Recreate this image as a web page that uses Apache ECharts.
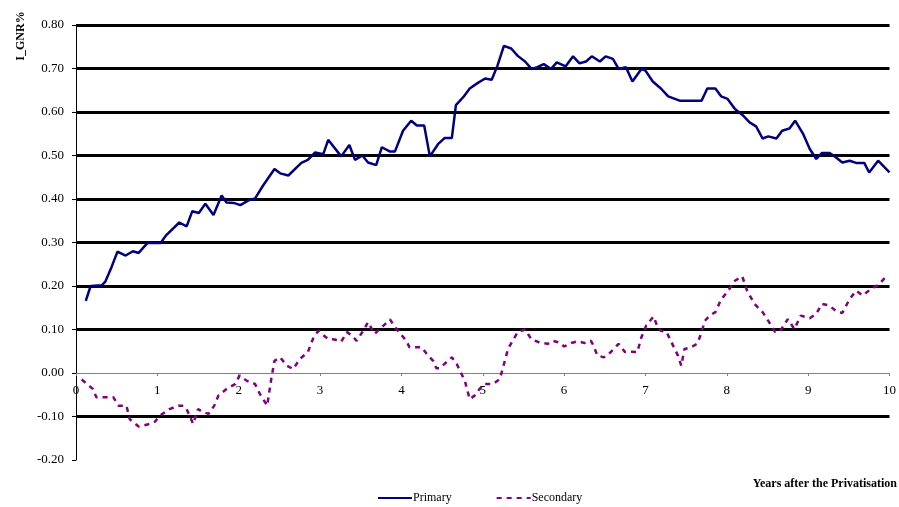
<!DOCTYPE html>
<html>
<head>
<meta charset="utf-8">
<script src="https://cdn.jsdelivr.net/npm/echarts@6/dist/echarts.min.js"></script>
<style>
html,body{margin:0;padding:0;background:#fff;}
#chart{width:899px;height:507px;}
</style>
</head>
<body>
<div id="chart"></div>
<script>
const seriesNames = ['Primary', 'Secondary'];
const yTickLabels = ['-0.20','-0.10','0.00','0.10','0.20','0.30','0.40','0.50','0.60','0.70','0.80'];
const xTickLabels = ['0','1','2','3','4','5','6','7','8','9','10'];

const primaryYears = [0.12,0.18,0.32,0.36,0.44,0.51,0.61,0.70,0.77,0.88,1.04,1.11,1.27,1.36,1.43,1.51,1.59,1.69,1.79,1.85,1.94,2.02,2.12,2.20,2.30,2.44,2.51,2.61,2.77,2.85,2.94,3.04,3.10,3.26,3.36,3.43,3.52,3.59,3.69,3.76,3.86,3.92,4.02,4.12,4.19,4.28,4.35,4.45,4.53,4.62,4.67,4.76,4.84,4.94,5.03,5.11,5.18,5.26,5.35,5.43,5.52,5.60,5.67,5.75,5.84,5.91,6.02,6.11,6.19,6.27,6.34,6.44,6.51,6.60,6.67,6.76,6.84,6.95,7.00,7.09,7.19,7.28,7.42,7.69,7.76,7.86,7.93,8.01,8.10,8.20,8.28,8.36,8.44,8.51,8.61,8.68,8.77,8.84,8.94,9.02,9.10,9.17,9.26,9.34,9.42,9.51,9.59,9.69,9.75,9.86,10.00];
const primaryValues = [0.166,0.200,0.202,0.210,0.245,0.279,0.270,0.280,0.276,0.299,0.299,0.317,0.346,0.337,0.372,0.368,0.389,0.363,0.408,0.392,0.391,0.386,0.397,0.401,0.431,0.469,0.459,0.454,0.483,0.490,0.507,0.503,0.536,0.498,0.524,0.490,0.500,0.484,0.478,0.519,0.509,0.509,0.557,0.580,0.569,0.569,0.498,0.526,0.540,0.540,0.616,0.634,0.654,0.667,0.677,0.674,0.706,0.752,0.746,0.729,0.716,0.699,0.703,0.710,0.699,0.714,0.705,0.728,0.712,0.716,0.728,0.716,0.728,0.722,0.699,0.703,0.670,0.699,0.695,0.670,0.654,0.636,0.626,0.626,0.654,0.654,0.636,0.630,0.607,0.592,0.576,0.567,0.539,0.544,0.539,0.557,0.562,0.580,0.549,0.515,0.492,0.506,0.506,0.496,0.484,0.488,0.483,0.483,0.461,0.488,0.461];

const secondaryYears = [0.07,0.21,0.25,0.46,0.52,0.62,0.66,0.77,0.91,0.97,1.03,1.15,1.26,1.32,1.36,1.44,1.50,1.56,1.63,1.70,1.75,1.85,1.96,2.01,2.10,2.20,2.26,2.35,2.40,2.44,2.51,2.59,2.67,2.75,2.85,2.92,2.98,3.02,3.10,3.18,3.26,3.33,3.39,3.45,3.53,3.59,3.67,3.78,3.86,3.94,4.06,4.10,4.25,4.31,4.39,4.43,4.47,4.53,4.62,4.68,4.72,4.78,4.84,4.90,4.96,5.02,5.13,5.21,5.25,5.31,5.37,5.43,5.52,5.60,5.70,5.80,5.86,5.94,6.00,6.09,6.17,6.25,6.33,6.35,6.41,6.49,6.55,6.61,6.67,6.75,6.83,6.90,6.95,7.01,7.10,7.15,7.19,7.26,7.34,7.40,7.44,7.48,7.56,7.64,7.69,7.73,7.79,7.86,7.93,8.01,8.10,8.19,8.25,8.34,8.44,8.52,8.59,8.65,8.75,8.83,8.91,9.02,9.10,9.17,9.26,9.34,9.42,9.51,9.59,9.67,9.77,9.86,9.96];
const secondaryValues = [-0.015,-0.037,-0.056,-0.056,-0.075,-0.075,-0.106,-0.123,-0.117,-0.112,-0.098,-0.083,-0.075,-0.075,-0.083,-0.117,-0.083,-0.090,-0.094,-0.075,-0.052,-0.037,-0.025,-0.006,-0.018,-0.025,-0.048,-0.075,-0.014,0.028,0.036,0.017,0.009,0.032,0.048,0.082,0.097,0.090,0.078,0.077,0.072,0.094,0.086,0.074,0.097,0.117,0.090,0.109,0.123,0.101,0.074,0.059,0.059,0.044,0.028,0.011,0.011,0.021,0.036,0.021,0.005,-0.018,-0.060,-0.052,-0.037,-0.025,-0.025,-0.014,0.013,0.055,0.075,0.094,0.100,0.077,0.070,0.067,0.074,0.070,0.061,0.069,0.073,0.069,0.074,0.067,0.040,0.036,0.044,0.055,0.067,0.048,0.049,0.048,0.082,0.109,0.130,0.105,0.097,0.094,0.063,0.040,0.017,0.055,0.059,0.068,0.094,0.120,0.132,0.140,0.169,0.187,0.212,0.222,0.189,0.159,0.140,0.117,0.095,0.095,0.124,0.101,0.132,0.126,0.136,0.159,0.155,0.143,0.138,0.170,0.189,0.178,0.193,0.202,0.222];

const yAxisTitle = 'I_GNR%';
const xAxisTitle = 'Years after the Privatisation';

const serif = '"Liberation Serif", "Times New Roman", serif';
const pair = (xs, ys) => xs.map((x, i) => [x, ys[i]]);

const chart = echarts.init(document.getElementById('chart'), null, {renderer: 'canvas'});
chart.setOption({
  animation: false,
  backgroundColor: '#fff',
  grid: {left: 76, right: 9, top: 25, bottom: 47, containLabel: false},
  legend: {
    data: seriesNames,
    left: 372, top: 487,
    itemWidth: 34, itemHeight: 10, itemGap: 44,
    itemStyle: {opacity: 0},
    textStyle: {fontFamily: serif, fontSize: 12, color: '#000', padding: [0,0,0,-4]}
  },
  xAxis: {
    type: 'value', min: 0, max: 10, interval: 1,
    axisLine: {onZero: true, lineStyle: {color: '#808080', width: 1}},
    axisTick: {show: true, length: 3, lineStyle: {color: '#808080'}},
    axisLabel: {
      margin: -76, fontFamily: serif, fontSize: 13, color: '#000',
      formatter: (v) => xTickLabels[Math.round(v)]
    },
    splitLine: {show: false}
  },
  yAxis: {
    type: 'value', min: -0.2, max: 0.8, interval: 0.1,
    axisLine: {show: true, lineStyle: {color: '#000', width: 1}},
    axisTick: {show: true, length: 4, lineStyle: {color: '#000'}},
    axisLabel: {
      margin: 12, fontFamily: serif, fontSize: 13, color: '#000',
      formatter: (v) => yTickLabels[Math.round((v + 0.2) * 10)]
    },
    splitLine: {
      show: true,
      lineStyle: {
        width: 3,
        color: ['rgba(0,0,0,0)','#000','rgba(0,0,0,0)','#000','#000','#000','#000','#000','#000','#000','#000']
      }
    }
  },
  series: [
    {
      name: seriesNames[0], type: 'line', symbol: 'none', showSymbol: false,
      data: pair(primaryYears, primaryValues),
      lineStyle: {color: '#000080', width: 2.5},
      itemStyle: {color: '#000080'}, z: 3
    },
    {
      name: seriesNames[1], type: 'line', symbol: 'none', showSymbol: false,
      data: pair(secondaryYears, secondaryValues),
      lineStyle: {color: '#800080', width: 2.5, type: [5, 5]},
      itemStyle: {color: '#800080'}, z: 3
    }
  ],
  graphic: [
    {
      type: 'text', x: 21, y: 36, rotation: Math.PI / 2,
      style: {text: yAxisTitle, fontFamily: serif, fontSize: 12, fontWeight: 'bold', fill: '#000', align: 'center', verticalAlign: 'middle'}
    },
    {
      type: 'text', x: 897, y: 484,
      style: {text: xAxisTitle, fontFamily: serif, fontSize: 12, fontWeight: 'bold', fill: '#000', align: 'right', verticalAlign: 'middle'}
    }
  ]
});
</script>
</body>
</html>
